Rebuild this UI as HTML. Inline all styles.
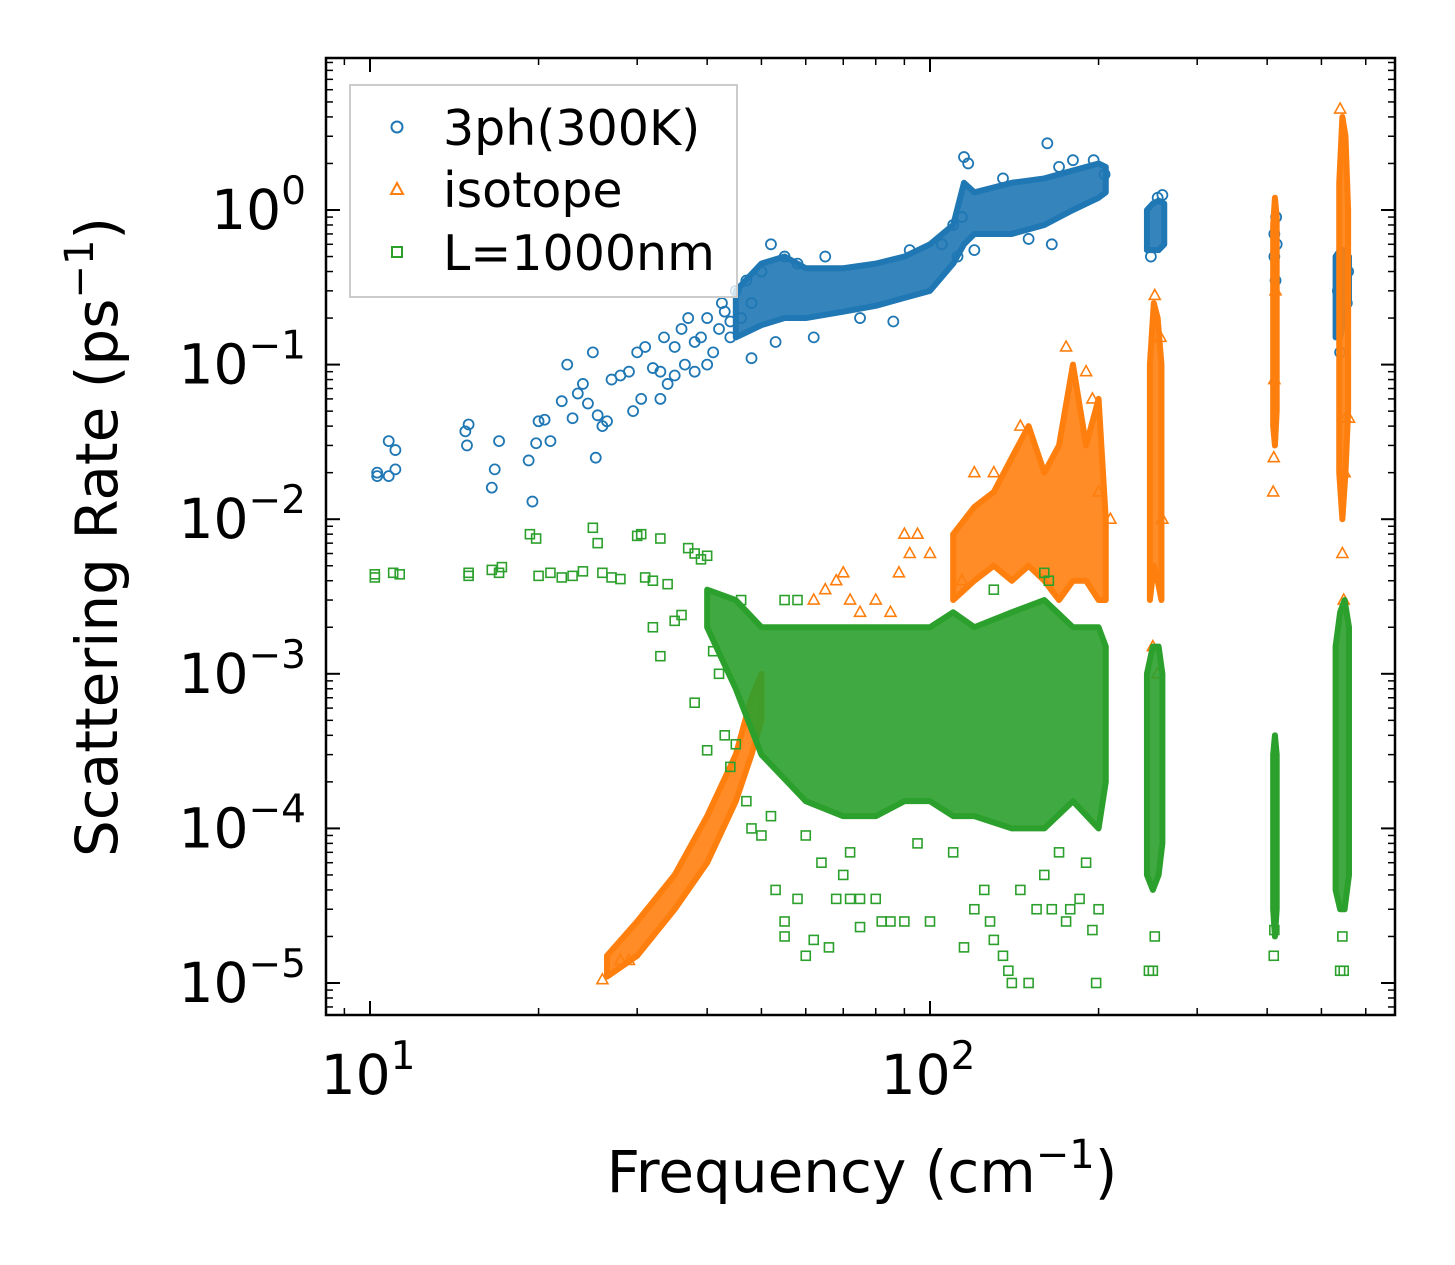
<!DOCTYPE html>
<html><head><meta charset="utf-8">
<style>
html,body{margin:0;padding:0;background:#fff;}
svg{display:block;font-family:"DejaVu Sans","Liberation Sans",sans-serif;}
</style></head>
<body>
<svg id="chart" width="1455" height="1265" viewBox="0 0 1455 1265" xmlns="http://www.w3.org/2000/svg">
<rect x="0" y="0" width="1455" height="1265" fill="#fff"/>
<g id="plot"></g>
<rect x="326" y="58" width="1069" height="957" fill="none" stroke="#000" stroke-width="2.5"/>
<g id="ticks"></g>
<text x="862" y="1192" font-size="58" text-anchor="middle">Frequency (cm<tspan dy="-24" font-size="40">−1</tspan><tspan dy="24">)</tspan></text>
<text transform="translate(117,537) rotate(-90)" font-size="58" text-anchor="middle">Scattering Rate (ps<tspan dy="-24" font-size="40">−1</tspan><tspan dy="24">)</tspan></text>
<g>
<rect x="350" y="85" width="387" height="212" fill="#fff" fill-opacity="0.8" stroke="#ccc" stroke-width="2"/>
<circle cx="397" cy="127" r="5.5" fill="none" stroke="#1f77b4" stroke-width="2"/>
<text x="443" y="145" font-size="49">3ph(300K)</text>
<polygon points="397,183 403,194 391,194" fill="none" stroke="#ff7f0e" stroke-width="2"/>
<text x="443" y="207" font-size="49">isotope</text>
<rect x="392" y="247" width="10" height="10" fill="none" stroke="#2ca02c" stroke-width="2"/>
<text x="443" y="270" font-size="49">L=1000nm</text>
</g>
</svg>
<script>
// ---- data ----
const blueBandF  = [[45,50,55,60,70,80,90,100,110,115,120,140,160,180,200,206],[244,250,256,262],[530,540,550,560]];
const blueBandLo = [[0.15,0.18,0.2,0.2,0.22,0.24,0.27,0.3,0.45,0.6,0.7,0.7,0.8,1.0,1.2,1.3],[0.55,0.55,0.55,0.6],[0.15,0.15,0.2,0.25]];
const blueBandHi = [[0.3,0.45,0.5,0.42,0.42,0.45,0.5,0.6,0.8,1.5,1.3,1.5,1.6,1.8,2.0,1.9],[1.0,1.1,1.15,1.1],[0.5,0.55,0.55,0.5]];
const bluePts = [[10.3,0.02],[10.3,0.019],[10.8,0.032],[10.8,0.019],[11.1,0.028],[11.1,0.021],[14.8,0.037],[15,0.041],[14.9,0.03],[16.5,0.016],[16.7,0.021],[17,0.032],[19.2,0.024],[19.5,0.013],[19.8,0.031],[20,0.043],[20.5,0.044],[21,0.032],[22,0.058],[22.5,0.1],[23,0.045],[23.5,0.065],[24,0.075],[24.5,0.056],[25,0.12],[25.5,0.047],[25.3,0.025],[26,0.04],[26.5,0.043],[27,0.08],[28,0.085],[29,0.09],[29.5,0.05],[30,0.12],[30.5,0.06],[31,0.13],[32,0.095],[33,0.09],[33,0.06],[33.5,0.15],[34,0.075],[35,0.13],[35,0.085],[36,0.17],[36.5,0.1],[37,0.2],[38,0.14],[38,0.09],[39,0.15],[40,0.2],[40,0.1],[41,0.12],[42,0.17],[42.5,0.25],[43,0.22],[44,0.19],[44,0.15],[45,0.3],[46,0.2],[47,0.35],[48,0.25],[48,0.11],[50,0.4],[52,0.6],[53,0.14],[55,0.5],[58,0.45],[62,0.15],[65,0.5],[75,0.2],[86,0.19],[92,0.55],[105,0.6],[110,0.8],[112,0.5],[114,0.9],[115,2.2],[117,2.0],[120,0.55],[135,1.6],[150,0.65],[162,2.7],[165,0.6],[170,1.9],[180,2.1],[196,2.1],[205,1.7],[248,0.5],[255,1.2],[260,1.25],[412,0.5],[412,0.7],[414,0.35],[415,0.9],[416,0.6],[535,0.3],[540,0.12],[545,0.5],[548,0.2],[555,0.25],[558,0.4]];
const orgBandF  = [[26.5,30,35,40,45,48,50],[110,120,130,140,150,160,170,180,190,200,206],[247,251,255,259],[410,413,416],[538,545,552,558]];
const orgBandLo = [[1.1e-5,1.5e-5,3e-5,6e-5,1.5e-4,3e-4,5e-4],[3e-3,4e-3,5e-3,4e-3,5e-3,4e-3,3e-3,4e-3,4e-3,3e-3,3e-3],[3e-3,5e-3,4e-3,3e-3],[0.04,0.03,0.05],[0.02,0.01,0.02,0.05]];
const orgBandHi = [[1.5e-5,2.5e-5,5e-5,1.2e-4,3e-4,7e-4,1e-3],[8e-3,1.2e-2,1.5e-2,2.5e-2,4e-2,2e-2,3e-2,1e-1,3e-2,6e-2,1e-2],[0.1,0.25,0.2,0.1],[0.8,1.2,0.9],[1.5,4,3,1]];
const orgPts = [[26,1.05e-5],[28,1.4e-5],[29,1.4e-5],[62,3e-3],[65,3.5e-3],[68,4e-3],[70,4.5e-3],[72,3e-3],[75,2.5e-3],[80,3e-3],[85,2.5e-3],[88,4.5e-3],[90,8e-3],[92,6e-3],[95,8e-3],[100,6e-3],[114,4e-3],[120,2e-2],[130,2e-2],[145,4e-2],[175,0.13],[190,0.09],[195,0.06],[210,0.01],[200,0.015],[252,0.28],[258,0.15],[260,0.01],[255,1e-3],[250,1.5e-3],[410,1.5e-2],[411,2.5e-2],[412,0.08],[414,0.3],[540,4.5],[548,3e-3],[550,2e-2],[545,6e-3],[552,0.045],[560,0.045]];
const grnBandF  = [[40,45,50,60,70,80,90,100,110,120,140,160,180,200,206],[244,250,256,260],[410,413,416],[530,540,550,560]];
const grnBandLo = [[2e-3,8e-4,3e-4,1.5e-4,1.2e-4,1.2e-4,1.5e-4,1.5e-4,1.2e-4,1.2e-4,1e-4,1e-4,1.5e-4,1e-4,2e-4],[5e-5,4e-5,5e-5,8e-5],[3e-5,2e-5,3e-5],[4e-5,3e-5,3e-5,5e-5]];
const grnBandHi = [[3.5e-3,3e-3,2e-3,2e-3,2e-3,2e-3,2e-3,2e-3,2.5e-3,2e-3,2.5e-3,3e-3,2e-3,2e-3,1.5e-3],[1e-3,1.5e-3,1.5e-3,1e-3],[3e-4,4e-4,3e-4],[1.5e-3,2.5e-3,3e-3,2e-3]];
const grnPts = [[10.2,4.2e-3],[10.2,4.4e-3],[11,4.5e-3],[11.3,4.4e-3],[15,4.3e-3],[15,4.5e-3],[16.5,4.7e-3],[17.2,4.9e-3],[17,4.5e-3],[19.3,8e-3],[19.8,7.5e-3],[20,4.3e-3],[21,4.5e-3],[22,4.2e-3],[23,4.3e-3],[24,4.6e-3],[25,8.8e-3],[25.5,7e-3],[26,4.5e-3],[27,4.2e-3],[28,4.1e-3],[30,7.8e-3],[30.5,8e-3],[31,4.2e-3],[32,4e-3],[33,1.3e-3],[32,2e-3],[33,7.5e-3],[34,3.8e-3],[35,2.2e-3],[36,2.4e-3],[37,6.5e-3],[38,6e-3],[38,6.5e-4],[39,5.5e-3],[40,5.8e-3],[40,3.2e-4],[41,1.4e-3],[42,1e-3],[43,4e-4],[44,2.5e-4],[45,3.5e-4],[46,3e-3],[47,1.5e-4],[48,1e-4],[50,9e-5],[52,1.2e-4],[53,4e-5],[55,2.5e-5],[55,2e-5],[58,3.5e-5],[60,1.5e-5],[60,9e-5],[62,1.9e-5],[64,6e-5],[66,1.7e-5],[68,3.5e-5],[70,5e-5],[72,3.5e-5],[72,7e-5],[75,3.5e-5],[75,2.3e-5],[80,3.5e-5],[82,2.5e-5],[85,2.5e-5],[90,2.5e-5],[95,8e-5],[100,2.5e-5],[110,7e-5],[115,1.7e-5],[120,3e-5],[125,4e-5],[128,2.5e-5],[130,1.9e-5],[135,1.5e-5],[138,1.2e-5],[140,1e-5],[145,4e-5],[150,1e-5],[155,3e-5],[160,5e-5],[165,3e-5],[170,7e-5],[175,2.5e-5],[178,3e-5],[185,3.5e-5],[190,6e-5],[195,2.2e-5],[198,1e-5],[200,3e-5],[160,4.5e-3],[163,4e-3],[130,3.5e-3],[55,3e-3],[58,3e-3],[246,1.2e-5],[250,1.2e-5],[252,2e-5],[411,1.5e-5],[412,2.2e-5],[540,1.2e-5],[548,1.2e-5],[545,2e-5]];
const yTickExps = [0,-1,-2,-3,-4,-5];
const xTickExps = [1,2];

// ---- axes ----
const NS = "http://www.w3.org/2000/svg";
const X = f => 370 + 560 * (Math.log10(f) - 1);
const Y = v => 210 - 154.6 * Math.log10(v);
const plot = document.getElementById('plot');
const ticks = document.getElementById('ticks');
function mk(tag, attrs, parent){ const e=document.createElementNS(NS,tag); for(const k in attrs) e.setAttribute(k,attrs[k]); parent.appendChild(e); return e; }

function bands(F,L,H,color,name){
  F.forEach((fs,i)=>{
    const up = fs.map((f,j)=>X(f)+','+Y(H[i][j]));
    const lo = fs.map((f,j)=>X(f)+','+Y(L[i][j])).reverse();
    const p = mk('polygon',{points:up.concat(lo).join(' '),fill:color,'fill-opacity':0.9,stroke:color,'stroke-width':6,'stroke-linejoin':'round'},plot);
    
    
  });
}
function pts(P,kind,color,name){
  P.forEach(([f,v])=>{
    const x=X(f), y=Y(v); let e;
    if(kind==='c') e=mk('circle',{cx:x,cy:y,r:5,fill:'none',stroke:color,'stroke-width':1.8},plot);
    else if(kind==='t') e=mk('polygon',{points:`${x},${y-6} ${x+5.5},${y+4} ${x-5.5},${y+4}`,fill:'none',stroke:color,'stroke-width':1.6},plot);
    else e=mk('rect',{x:x-4.5,y:y-4.5,width:9,height:9,fill:'none',stroke:color,'stroke-width':1.6},plot);
    
    
  });
}
bands(blueBandF,blueBandLo,blueBandHi,'#1f77b4','3ph');
pts(bluePts,'c','#1f77b4','3ph');
bands(orgBandF,orgBandLo,orgBandHi,'#ff7f0e','isotope');
pts(orgPts,'t','#ff7f0e','isotope');
bands(grnBandF,grnBandLo,grnBandHi,'#2ca02c','boundary');
pts(grnPts,'s','#2ca02c','boundary');

const cp = mk('clipPath',{id:'cp'},document.getElementById('chart'));
mk('rect',{x:326,y:58,width:1069,height:957},cp);
plot.setAttribute('clip-path','url(#cp)');

const L=326,R=1395,T=58,B=1015;
function tl(x1,y1,x2,y2,w){ const t=mk('line',{x1,y1,x2,y2,stroke:'#000','stroke-width':w},ticks);   }
for(let d=0; d<3; d++){
  for(let m=1;m<10;m++){
    const f=m*Math.pow(10,d); const x=X(f);
    if(x<L||x>R) continue;
    const len = m===1?14:7, w = m===1?2:1.5;
    tl(x,B,x,B-len,w); tl(x,T,x,T+len,w);
  }
}
for(let d=-6; d<1; d++){
  for(let m=1;m<10;m++){
    const v=m*Math.pow(10,d); const y=Y(v);
    if(y<T||y>B) continue;
    const len = m===1?14:7, w = m===1?2:1.5;
    tl(L,y,L+len,y,w); tl(R,y,R-len,y,w);
  }
}
xTickExps.forEach(e=>{
  const t=mk('text',{x:X(Math.pow(10,e))-2,y:1094,'font-size':55,'text-anchor':'middle'},ticks);
  
  
  t.innerHTML='10<tspan dy="-25" font-size="39">'+e+'</tspan>';
});
yTickExps.forEach(e=>{
  const t=mk('text',{x:306,y:Y(Math.pow(10,e))+19,'font-size':55,'text-anchor':'end'},ticks);
  
  
  t.innerHTML='10<tspan dy="-25" font-size="39">'+(e<0?'−'+(-e):e)+'</tspan>';
});
</script>
</body></html>
